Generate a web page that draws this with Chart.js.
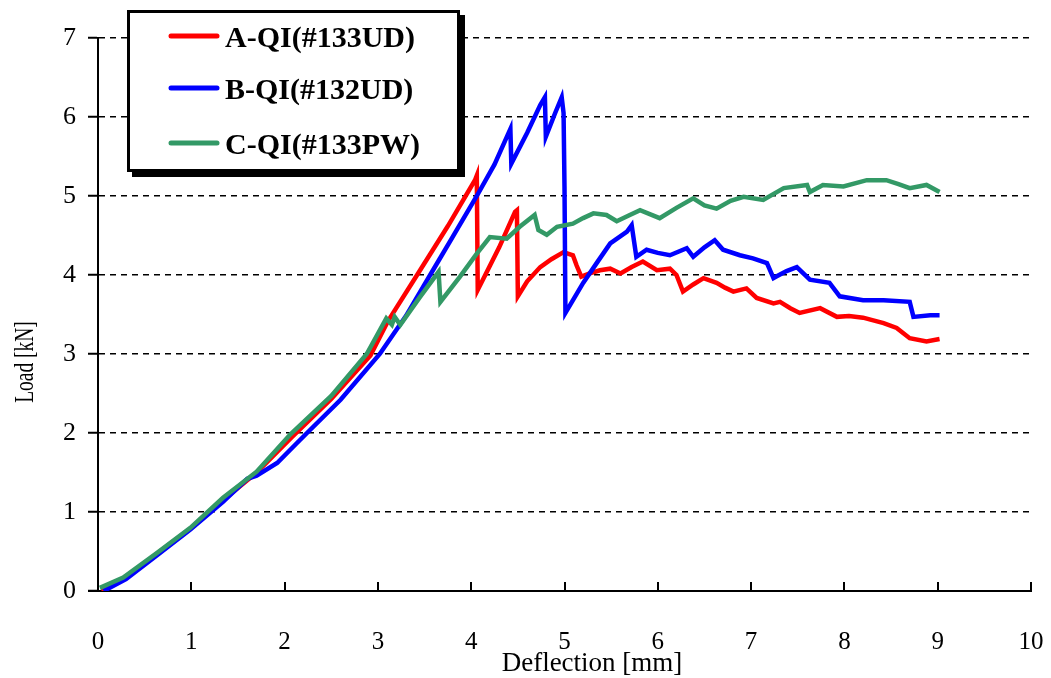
<!DOCTYPE html>
<html>
<head>
<meta charset="utf-8">
<script src="https://cdn.jsdelivr.net/npm/chart.js@4"></script>
<style>
  html, body { margin: 0; padding: 0; background: #fff; }
  #wrap { width: 1051px; height: 678px; position: relative; }
</style>
</head>
<body>
<div id="wrap"><canvas id="loadChart"></canvas></div>
<script>
// A-QI(#133UD)
var aX = [0.04, 0.3, 0.63, 0.99, 1.34, 1.7, 2.08, 2.5, 2.92, 3.11, 3.42, 3.75, 4.04, 4.06, 4.07, 4.3, 4.47, 4.49, 4.5, 4.6, 4.74, 4.86, 4.99, 5.09, 5.13, 5.18, 5.27, 5.38, 5.49, 5.6, 5.72, 5.84, 5.99, 6.13, 6.2, 6.27, 6.38, 6.49, 6.63, 6.72, 6.81, 6.95, 7.06, 7.24, 7.31, 7.42, 7.52, 7.74, 7.92, 8.05, 8.2, 8.42, 8.56, 8.7, 8.88, 9.02];
var aY = [0, 0.17, 0.47, 0.79, 1.15, 1.5, 1.95, 2.43, 2.98, 3.42, 4.0, 4.62, 5.2, 5.26, 3.81, 4.35, 4.8, 4.82, 3.73, 3.92, 4.1, 4.2, 4.29, 4.25, 4.12, 3.98, 4.02, 4.06, 4.08, 4.02, 4.1, 4.17, 4.06, 4.08, 4.0, 3.79, 3.88, 3.96, 3.9, 3.84, 3.79, 3.83, 3.71, 3.64, 3.66, 3.58, 3.52, 3.58, 3.47, 3.48, 3.46, 3.39, 3.33, 3.2, 3.16, 3.19];

// B-QI(#132UD)
var bX = [0.06, 0.3, 0.63, 0.99, 1.34, 1.6, 1.7, 1.92, 2.13, 2.24, 2.6, 3.02, 3.3, 3.56, 3.8, 4.06, 4.25, 4.42, 4.43, 4.6, 4.74, 4.79, 4.8, 4.9, 4.97, 4.99, 5.0, 5.01, 5.2, 5.35, 5.49, 5.67, 5.72, 5.77, 5.88, 6.0, 6.13, 6.31, 6.38, 6.5, 6.61, 6.7, 6.88, 7.02, 7.17, 7.24, 7.27, 7.38, 7.49, 7.63, 7.84, 7.95, 8.2, 8.42, 8.7, 8.74, 8.92, 9.02];
var bY = [0, 0.15, 0.45, 0.78, 1.13, 1.42, 1.46, 1.62, 1.87, 2.0, 2.42, 3.0, 3.48, 4.0, 4.48, 5.0, 5.4, 5.85, 5.41, 5.8, 6.15, 6.25, 5.75, 6.05, 6.25, 6.05, 5.12, 3.52, 3.9, 4.16, 4.4, 4.55, 4.63, 4.23, 4.32, 4.28, 4.25, 4.34, 4.23, 4.35, 4.44, 4.32, 4.25, 4.21, 4.15, 3.96, 3.98, 4.05, 4.1, 3.94, 3.9, 3.73, 3.68, 3.68, 3.66, 3.47, 3.49, 3.49];

// C-QI(#133PW)
var cX = [0.02, 0.27, 0.63, 0.99, 1.34, 1.7, 2.06, 2.5, 2.88, 3.09, 3.15, 3.18, 3.24, 3.45, 3.65, 3.67, 3.88, 4.06, 4.2, 4.38, 4.52, 4.68, 4.72, 4.81, 4.92, 5.09, 5.2, 5.31, 5.45, 5.56, 5.7, 5.81, 6.02, 6.2, 6.38, 6.5, 6.63, 6.78, 6.92, 7.13, 7.35, 7.6, 7.63, 7.77, 7.99, 8.24, 8.45, 8.58, 8.7, 8.88, 9.02];
var cY = [0.04, 0.17, 0.48, 0.8, 1.18, 1.51, 1.98, 2.47, 3.0, 3.45, 3.37, 3.47, 3.37, 3.72, 4.04, 3.66, 3.98, 4.27, 4.48, 4.46, 4.61, 4.76, 4.57, 4.51, 4.61, 4.65, 4.72, 4.78, 4.76, 4.68, 4.76, 4.82, 4.72, 4.85, 4.97, 4.88, 4.84, 4.94, 4.99, 4.95, 5.10, 5.14, 5.05, 5.14, 5.12, 5.2, 5.2, 5.15, 5.1, 5.14, 5.05];

var seriesNames = ['A-QI(#133UD)', 'B-QI(#132UD)', 'C-QI(#133PW)'];
var seriesColors = ['#ff0000', '#0000ff', '#339966'];
var xTicks = [0, 1, 2, 3, 4, 5, 6, 7, 8, 9, 10];

function pts(xs, ys) {
    return xs.map(function (x, i) { return { x: x, y: ys[i] }; });
}

function line(i, xs, ys, order) {
    return {
        label: seriesNames[i],
        data: pts(xs, ys),
        showLine: true,
        borderColor: seriesColors[i],
        backgroundColor: seriesColors[i],
        borderWidth: 4.5,
        pointRadius: 0,
        tension: 0,
        order: order
    };
}

// inner tick marks on the x axis, axis titles
var axisExtras = {
    id: 'axisExtras',
    afterDraw: function (chart) {
        var ctx = chart.ctx, xs = chart.scales.x, area = chart.chartArea;
        ctx.save();
        ctx.strokeStyle = '#000';
        ctx.lineWidth = 2;
        ctx.beginPath();
        ctx.moveTo(area.left - 10, area.bottom);
        ctx.lineTo(area.left, area.bottom);
        xTicks.forEach(function (v) {
            var px = Math.round(xs.getPixelForValue(v));
            ctx.moveTo(px, area.bottom);
            ctx.lineTo(px, area.bottom - 9);
        });
        ctx.stroke();

        ctx.fillStyle = '#000';
        ctx.font = '27px "Liberation Serif"';
        ctx.textAlign = 'center';
        ctx.textBaseline = 'alphabetic';
        ctx.fillText('Deflection [mm]', 592, 671);

        ctx.translate(33, 362);
        ctx.rotate(-Math.PI / 2);
        ctx.scale(0.72, 1);
        ctx.fillText('Load [kN]', 0, 0);
        ctx.restore();
    }
};

// boxed legend with drop shadow
var boxLegend = {
    id: 'boxLegend',
    afterDraw: function (chart) {
        var ctx = chart.ctx;
        ctx.save();
        ctx.fillStyle = '#000';
        ctx.fillRect(132, 15, 333, 162);
        ctx.fillStyle = '#fff';
        ctx.fillRect(127, 10, 333, 162);
        ctx.strokeStyle = '#000';
        ctx.lineWidth = 3;
        ctx.strokeRect(128.5, 11.5, 330, 159);

        var rows = [36, 88, 143];
        ctx.font = 'bold 30px "Liberation Serif"';
        ctx.textAlign = 'left';
        ctx.textBaseline = 'alphabetic';
        ctx.lineCap = 'round';
        seriesNames.forEach(function (name, i) {
            ctx.strokeStyle = seriesColors[i];
            ctx.lineWidth = 5;
            ctx.beginPath();
            ctx.moveTo(171, rows[i]);
            ctx.lineTo(217, rows[i]);
            ctx.stroke();
            ctx.fillStyle = '#000';
            ctx.fillText(name, 225, rows[i] + 11);
        });
        ctx.restore();
    }
};

var ctx = document.getElementById('loadChart').getContext('2d');

var loadChart = new Chart(ctx, {
    type: 'scatter',
    data: {
        datasets: [
            line(0, aX, aY, 2),
            line(1, bX, bY, 1),
            line(2, cX, cY, 0)
        ]
    },
    options: {
        responsive: true,
        maintainAspectRatio: false,
        animation: false,
        layout: { padding: { top: 38, right: 20, left: 0, bottom: 0 } },
        plugins: {
            legend: { display: false },
            tooltip: { enabled: false }
        },
        scales: {
            x: {
                type: 'linear',
                min: 0,
                max: 10,
                afterFit: function (s) {
                    s.height = 87;
                    s.paddingLeft = 0;
                    s.paddingRight = 0;
                },
                afterBuildTicks: function (s) {
                    s.ticks = xTicks.map(function (v) { return { value: v }; });
                },
                grid: { display: false, drawTicks: false },
                border: { display: true, color: '#000', width: 2 },
                ticks: {
                    color: '#000',
                    padding: 36,
                    maxRotation: 0,
                    font: { family: 'Liberation Serif', size: 25 }
                }
            },
            y: {
                type: 'linear',
                min: 0,
                max: 7,
                afterFit: function (s) {
                    s.width = 98;
                    s.paddingTop = 0;
                    s.paddingBottom = 0;
                },
                grid: {
                    color: function (c) {
                        return c.tick && c.tick.value === 0 ? 'rgba(0,0,0,0)' : '#000';
                    },
                    lineWidth: 1.5,
                    tickColor: '#000',
                    tickWidth: 2,
                    tickLength: 10
                },
                border: { display: true, color: '#000', width: 2, dash: [6, 5] },
                ticks: {
                    stepSize: 1,
                    color: '#000',
                    padding: 12,
                    font: { family: 'Liberation Serif', size: 26 }
                }
            }
        }
    },
    plugins: [axisExtras, boxLegend]
});
</script>
</body>
</html>
